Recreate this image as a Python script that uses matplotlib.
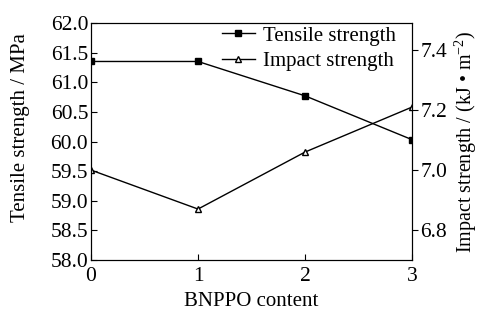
import matplotlib.pyplot as plt

plt.rcParams['font.family'] = ['Liberation Serif', 'DejaVu Serif']
plt.rcParams['mathtext.fontset'] = 'custom'
plt.rcParams['mathtext.rm'] = 'Liberation Serif'

content = [0, 1, 2, 3]
tensile = [61.35, 61.35, 60.77, 60.03]
impact = [7.00, 6.87, 7.06, 7.21]

fig = plt.figure(figsize=(4.81, 3.10), dpi=100)
ax = fig.add_axes([0.189, 0.161, 0.668, 0.765])
ax2 = ax.twinx()

l1, = ax.plot(content, tensile, color='black', lw=1, marker='s', ms=4.5,
              label='Tensile strength')
l2, = ax2.plot(content, impact, color='black', lw=1, marker='^', ms=5,
               mfc='white', label='Impact strength')

ax.set_xlim(0, 3)
ax.set_ylim(58.0, 62.0)
ax.set_xticks(content)
ax.set_yticks([58.0 + 0.5 * i for i in range(9)])
ax.set_yticklabels([f'{58.0 + 0.5 * i:.1f}' for i in range(9)])
ax2.set_ylim(6.70, 7.49)
ax2.set_yticks([6.8, 7.0, 7.2, 7.4])
ax2.set_yticklabels(['6.8', '7.0', '7.2', '7.4'])

ax.tick_params(axis='y', direction='in', labelsize=15.5, length=4, pad=2)
ax.tick_params(axis='x', direction='in', labelsize=15.5, length=4, pad=5)
ax2.tick_params(axis='y', direction='out', labelsize=15.5, length=4, pad=2)

ax.set_xlabel('BNPPO content', fontsize=15, labelpad=4)
ax.set_ylabel('Tensile strength / MPa', fontsize=15)
ax.yaxis.set_label_coords(-0.19, 0.56)
ax2.set_ylabel(r'Impact strength / (kJ • m$^{-2}$)', fontsize=14.5)
ax2.yaxis.set_label_coords(1.125, 0.5)

ax.legend(handles=[l1, l2], loc='upper right', bbox_to_anchor=(0.96, 1.0),
          frameon=False, fontsize=15, borderaxespad=0.05, borderpad=0.1,
          handlelength=1.6, handletextpad=0.4, labelspacing=0.3)

fig.savefig('out.png', dpi=100)
